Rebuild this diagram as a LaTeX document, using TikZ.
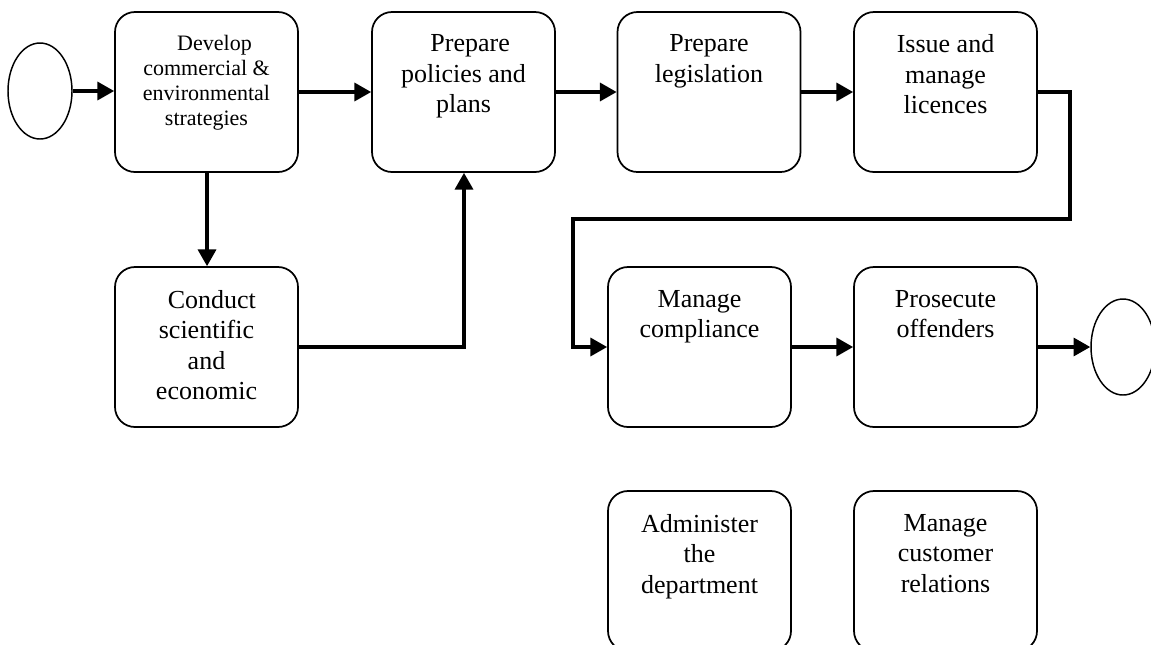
\documentclass[tikz,border=0pt]{standalone}
\usepackage{fontspec}
\setmainfont{Liberation Serif}
\usetikzlibrary{arrows.meta,shapes.geometric}

\begin{document}
\begin{tikzpicture}[x=0.75pt, y=-0.75pt,
  procbox/.style={draw=black, line width=1.3pt, rounded corners=15pt,
    minimum width=137.25pt, minimum height=120pt, inner sep=0pt},
  terminal/.style={draw=black, line width=1.1pt, ellipse,
    minimum width=48pt, minimum height=72pt, inner sep=0pt},
  boxtext/.style={anchor=north, align=center, inner sep=0pt,
    font=\fontsize{19.5}{22.8}\selectfont},
  smalltext/.style={boxtext, font=\fontsize{16.5}{18.75}\selectfont},
  flow/.style={draw=black, line width=2.4pt,
    -{Triangle[length=12.5pt, width=13.5pt]}}
]
\useasboundingbox (0,0) rectangle (1151,644);

% terminals
\node[terminal] (start) at (40,91) {};
\node[terminal] (finish) at (1123,347) {};

% process boxes
\node[procbox] (dev) at (206.5,92) {};
\node[procbox] (pol) at (463.5,92) {};
\node[procbox] (leg) at (709,92) {};
\node[procbox] (iss) at (945.5,92) {};
\node[procbox] (con) at (206.5,347) {};
\node[procbox] (cmp) at (699.5,347) {};
\node[procbox] (pro) at (945.5,347) {};
\node[procbox] (adm) at (699.5,571) {};
\node[procbox] (cus) at (945.5,571) {};

% box labels
\node[smalltext] (devt) at ([yshift=-17.5pt]dev.north) {\hspace{12pt}Develop\\ commercial \&\\ environmental\\ strategies};
\node[boxtext] (polt) at ([yshift=-17.5pt]pol.north) {\hspace{10pt}Prepare\\ policies and\\ plans};
\node[boxtext] (legt) at ([yshift=-17.5pt]leg.north) {Prepare\\ legislation};
\node[boxtext] (isst) at ([yshift=-17.5pt]iss.north) {Issue and\\ manage\\ licences};
\node[boxtext] (cont) at ([yshift=-18pt]con.north) {\hspace{8pt}Conduct\\ scientific\\ and\\ economic};
\node[boxtext] (cmpt) at ([yshift=-18pt]cmp.north) {Manage\\ compliance};
\node[boxtext] (prot) at ([yshift=-18pt]pro.north) {Prosecute\\ offenders};
\node[boxtext] (admt) at ([yshift=-18pt]adm.north) {Administer\\ the\\ department};
\node[boxtext] (cust) at ([yshift=-18pt]cus.north) {Manage\\ customer\\ relations};

% routing points
\coordinate (r1) at (1070,92);
\coordinate (r2) at (1070,219);
\coordinate (r3) at (573,219);
\coordinate (r4) at (573,347);
\coordinate (s1) at (464,347);

% connectors
\draw[flow] (start.east) -- (dev.west |- start.east);
\draw[flow] (dev.east) -- (pol.west);
\draw[flow] (pol.east) -- (leg.west);
\draw[flow] (leg.east) -- (iss.west);
\draw[flow] (iss.east) -- (r1) -- (r2) -- (r3) -- (r4) -- (cmp.west);
\draw[flow] ([xshift=0.4pt]dev.south) -- ([xshift=0.4pt]con.north);
\draw[flow] (con.east) -- (s1) -- (s1 |- pol.south);
\draw[flow] (cmp.east) -- (pro.west);
\draw[flow] (pro.east) -- (finish.west);
\end{tikzpicture}
\end{document}
